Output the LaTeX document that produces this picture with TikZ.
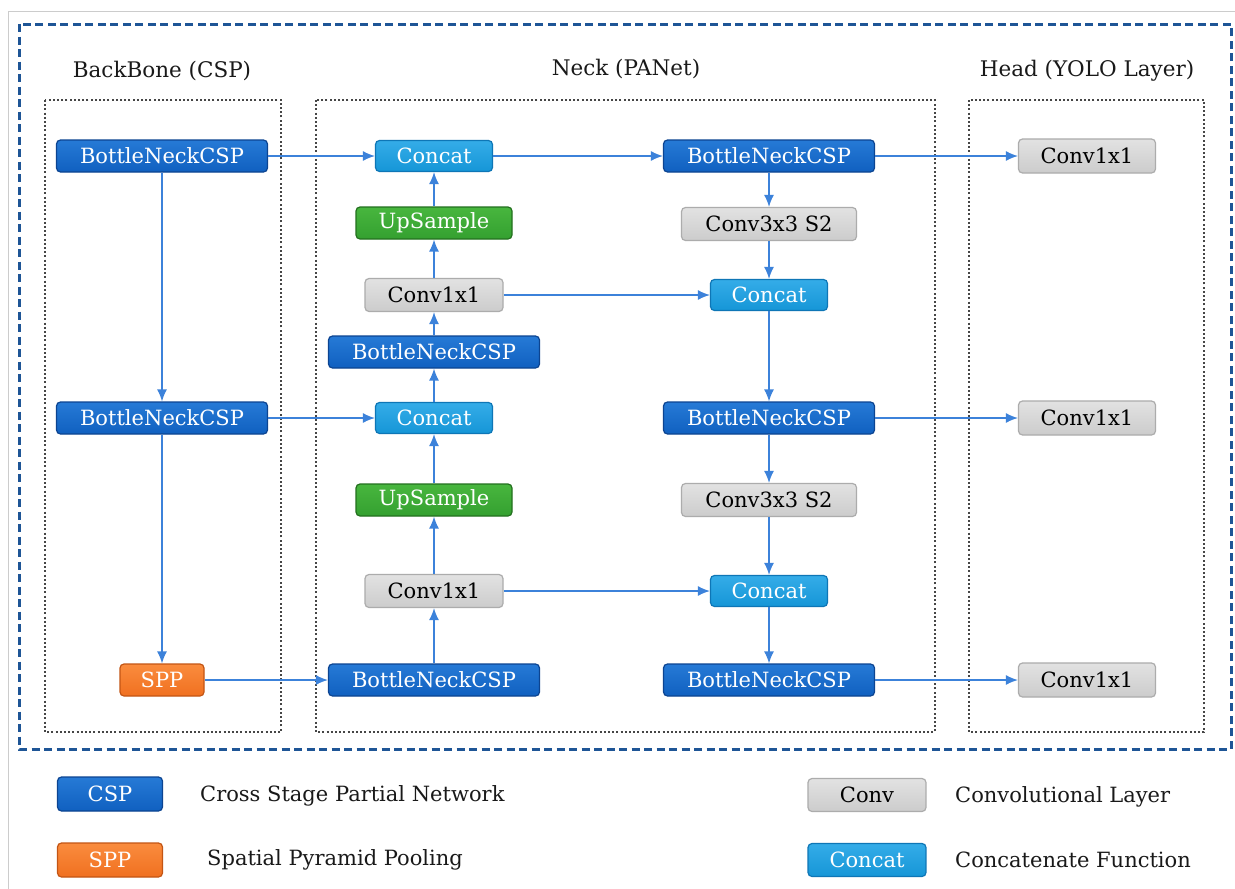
\documentclass[tikz,border=0pt]{standalone}
\usepackage{fontspec}
\setmainfont{DejaVu Serif}
\usetikzlibrary{arrows.meta}
\definecolor{cspfill}{RGB}{16,96,192}
\definecolor{csptop}{RGB}{38,122,214}
\definecolor{cspdraw}{RGB}{12,68,145}
\definecolor{catfill}{RGB}{22,150,215}
\definecolor{cattop}{RGB}{52,172,232}
\definecolor{catdraw}{RGB}{14,118,182}
\definecolor{upfill}{RGB}{52,160,48}
\definecolor{uptop}{RGB}{72,182,62}
\definecolor{updraw}{RGB}{35,112,30}
\definecolor{sppfill}{RGB}{240,112,32}
\definecolor{spptop}{RGB}{250,140,62}
\definecolor{sppdraw}{RGB}{195,85,20}
\definecolor{convfill}{RGB}{204,204,204}
\definecolor{convtop}{RGB}{226,226,226}
\definecolor{convdraw}{RGB}{172,172,172}
\definecolor{arrowc}{RGB}{60,130,218}
\definecolor{outerc}{RGB}{30,85,150}
\definecolor{dotc}{RGB}{70,70,70}
\tikzset{
  blk/.style={rounded corners=4pt, line width=1.2pt, inner sep=0pt,
    font=\fontsize{21}{25}\selectfont},
  cspbox/.style={blk, draw=cspdraw, top color=csptop, bottom color=cspfill, text=white,
    minimum width=211pt, minimum height=32pt},
  catbox/.style={blk, draw=catdraw, top color=cattop, bottom color=catfill, text=white,
    minimum width=117pt, minimum height=31pt},
  upbox/.style={blk, draw=updraw, top color=uptop, bottom color=upfill, text=white,
    minimum width=156pt, minimum height=32pt},
  sppbox/.style={blk, draw=sppdraw, top color=spptop, bottom color=sppfill, text=white,
    minimum width=84pt, minimum height=32pt},
  convbox/.style={blk, draw=convdraw, top color=convtop, bottom color=convfill, text=black,
    minimum width=138pt, minimum height=33pt},
  arr/.style={draw=arrowc, line width=1.4pt, -{Latex[length=12pt,width=10pt]}},
  group/.style={draw=dotc, line width=2.2pt, dash pattern=on 2pt off 2.2pt},
  title/.style={font=\fontsize{21.5}{25}\selectfont, text=black!90},
  legtext/.style={font=\fontsize{21}{25}\selectfont, text=black!90, anchor=west, inner sep=0pt}
}
\begin{document}
\begin{tikzpicture}[x=1pt,y=-1pt]
\useasboundingbox (0,0) rectangle (1235,889);
\fill[white] (0,0) rectangle (1235,889);
% thin outer frame
\draw[black!20, line width=1pt] (8,889) -- (8,11) -- (1235,11);
% outer dashed frame
\draw[outerc, line width=3pt, dash pattern=on 8pt off 4.5pt] (19,24) rectangle (1231,749);
% group boxes
\draw[group] (45,100) rectangle (281,732);
\draw[group] (316,100) rectangle (935,732);
\draw[group] (969,100) rectangle (1204,732);
% titles
\node[title] (tbb) at (162,71) {BackBone (CSP)};
\node[title] (tnk) at (626,69) {Neck (PANet)};
\node[title] (thd) at (1087,71) {Head (YOLO Layer)};
% backbone
\node[cspbox] (bb1) at (162,156) {BottleNeckCSP};
\node[cspbox] (bb2) at (162,418) {BottleNeckCSP};
\node[sppbox] (spp) at (162,680) {SPP};
% neck left column
\node[catbox] (c1) at (434,156) {Concat};
\node[upbox] (u1) at (434,223) {UpSample};
\node[convbox] (k1) at (434,295) {Conv1x1};
\node[cspbox] (n1) at (434,352) {BottleNeckCSP};
\node[catbox] (c2) at (434,418) {Concat};
\node[upbox] (u2) at (434,500) {UpSample};
\node[convbox] (k2) at (434,591) {Conv1x1};
\node[cspbox] (n2) at (434,680) {BottleNeckCSP};
% neck right column
\node[cspbox] (r1) at (769,156) {BottleNeckCSP};
\node[convbox, minimum width=175pt] (s1) at (769,224) {Conv3x3 S2};
\node[catbox] (rc1) at (769,295) {Concat};
\node[cspbox] (r2) at (769,418) {BottleNeckCSP};
\node[convbox, minimum width=175pt] (s2) at (769,500) {Conv3x3 S2};
\node[catbox] (rc2) at (769,591) {Concat};
\node[cspbox] (r3) at (769,680) {BottleNeckCSP};
% head
\node[convbox, minimum width=137pt, minimum height=34pt] (h1) at (1087,156) {Conv1x1};
\node[convbox, minimum width=137pt, minimum height=34pt] (h2) at (1087,418) {Conv1x1};
\node[convbox, minimum width=137pt, minimum height=34pt] (h3) at (1087,680) {Conv1x1};
% connectors
\draw[arr] (bb1) -- (c1);
\draw[arr] (bb1) -- (bb2);
\draw[arr] (bb2) -- (c2);
\draw[arr] (bb2) -- (spp);
\draw[arr] (spp) -- (n2);
\draw[arr] (n2) -- (k2);
\draw[arr] (k2) -- (u2);
\draw[arr] (u2) -- (c2);
\draw[arr] (c2) -- (n1);
\draw[arr] (n1) -- (k1);
\draw[arr] (k1) -- (u1);
\draw[arr] (u1) -- (c1);
\draw[arr] (c1) -- (r1);
\draw[arr] (r1) -- (s1);
\draw[arr] (s1) -- (rc1);
\draw[arr] (k1) -- (rc1);
\draw[arr] (rc1) -- (r2);
\draw[arr] (r2) -- (s2);
\draw[arr] (s2) -- (rc2);
\draw[arr] (k2) -- (rc2);
\draw[arr] (rc2) -- (r3);
\draw[arr] (r1) -- (h1);
\draw[arr] (r2) -- (h2);
\draw[arr] (r3) -- (h3);
% legend
\node[cspbox, minimum width=105pt, minimum height=34pt] (lcsp) at (110,794) {CSP};
\node[sppbox, minimum width=105pt, minimum height=34pt] (lspp) at (110,860) {SPP};
\node[convbox, minimum width=118pt, minimum height=33pt] (lconv) at (867,795) {Conv};
\node[catbox, minimum width=118pt, minimum height=33pt] (lcat) at (867,860) {Concat};
\node[legtext] (tcsp) at (200,796) {Cross Stage Partial Network};
\node[legtext] (tspp) at (207,860) {Spatial Pyramid Pooling};
\node[legtext] (tconv) at (955,797) {Convolutional Layer};
\node[legtext] (tcat) at (955,860) {Concatenate Function};
\end{tikzpicture}
\end{document}
